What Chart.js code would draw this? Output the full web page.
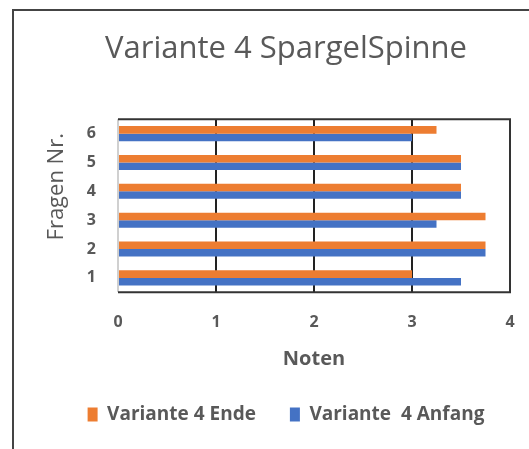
<!DOCTYPE html>
<html><head><meta charset="utf-8">
<script src="https://cdn.jsdelivr.net/npm/chart.js@4"></script>
<style>
html,body{margin:0;padding:0;background:#fff;overflow:hidden;}
#wrap{position:relative;width:529px;height:449px;}
#frame{position:absolute;left:12px;top:9px;width:530px;height:450px;border-left:2px solid #444;border-top:2px solid #444;box-sizing:border-box;pointer-events:none;}
canvas{position:absolute;left:0;top:0;}
</style></head><body>
<div id="wrap"><canvas id="c" width="529" height="449"></canvas><div id="frame"></div></div>
<script>
const categories = ['6','5','4','3','2','1'];
const endeValues = [3.25, 3.5, 3.5, 3.75, 3.75, 3.0];
const anfangValues = [3.0, 3.5, 3.5, 3.25, 3.75, 3.5];
const xTicks = [0, 1, 2, 3, 4];
const seriesNames = ['Variante 4 Ende', 'Variante  4 Anfang'];
const yTitle = 'Fragen Nr.';
const TXT = '#595959';
const FONT = "'Open Sans', sans-serif";

const boxPlugin = {
  id: 'box',
  afterDraw(chart) {
    const a = chart.chartArea, ctx = chart.ctx;
    ctx.save();
    ctx.lineWidth = 2;
    ctx.strokeStyle = '#333';
    ctx.beginPath();
    ctx.moveTo(a.left, a.top); ctx.lineTo(a.right, a.top);
    ctx.lineTo(a.right, a.bottom); ctx.lineTo(a.left, a.bottom);
    ctx.stroke();
    // y axis title, placed like the original (slightly above the axis centre)
    ctx.translate(chart.scales.y.left + 14, (a.top + a.bottom) / 2 - 19);
    ctx.rotate(-Math.PI / 2);
    ctx.fillStyle = TXT;
    ctx.font = "22px " + FONT;
    ctx.textAlign = 'center';
    ctx.textBaseline = 'middle';
    ctx.fillText(yTitle, 0, 0);
    ctx.restore();
  }
};

new Chart(document.getElementById('c'), {
  type: 'bar',
  data: {
    labels: categories,
    datasets: [
      {label: seriesNames[0], data: endeValues, backgroundColor: '#ED7D31', borderWidth: 0},
      {label: seriesNames[1], data: anfangValues, backgroundColor: '#4472C4', borderWidth: 0}
    ]
  },
  options: {
    indexAxis: 'y',
    responsive: false,
    animation: false,
    layout: {padding: {left: 43, right: 0, top: 0, bottom: 15}},
    datasets: {bar: {categoryPercentage: 0.52, barPercentage: 1.0}},
    scales: {
      x: {
        min: 0, max: 4,
        afterBuildTicks(s) { s.ticks = xTicks.map(v => ({value: v})); },
        afterFit(s) { s.paddingRight = 19; },
        grid: {color: ctx => ctx.tick && ctx.tick.value === 0 ? '#d0d0d0' : '#222', lineWidth: 2, drawTicks: false},
        border: {display: false},
        ticks: {color: TXT, font: {family: FONT, size: 16, weight: 'bold'}, padding: 21},
        title: {display: true, text: 'Noten', color: TXT, font: {family: FONT, size: 20, weight: 'bold'}, padding: {top: -6.5, bottom: 0}}
      },
      y: {
        afterFit(s) { s.width = 75; },
        grid: {display: false, drawTicks: false},
        border: {display: true, color: '#d0d0d0', width: 1},
        ticks: {color: TXT, font: {family: FONT, size: 16, weight: 'bold'}, padding: 22},
        title: {display: false, text: yTitle}
      }
    },
    plugins: {
      title: {display: true, text: 'Variante 4 SpargelSpinne', color: TXT, font: {family: FONT, size: 31, weight: 'normal'}, padding: {top: 31, bottom: 51}},
      legend: {position: 'bottom', labels: {color: TXT, font: {family: FONT, size: 19, weight: 'bold'}, boxWidth: 10, boxHeight: 14, padding: 34}},
      tooltip: {enabled: false}
    }
  },
  plugins: [boxPlugin]
});
</script></body></html>
